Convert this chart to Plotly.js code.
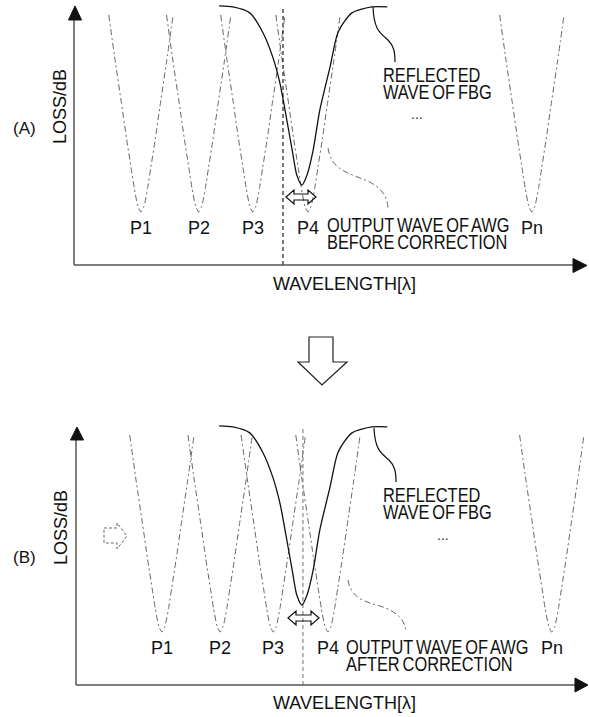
<!DOCTYPE html>
<html>
<head>
<meta charset="utf-8">
<script src="https://cdn.plot.ly/plotly-3.0.1.min.js"></script>
<style>
html,body{margin:0;padding:0;background:#fff;}
#chart{width:589px;height:717px;}
</style>
</head>
<body>
<div id="chart"></div>
<script>
// ---------- DATA ----------
// AWG output channel centres (wavelength, arbitrary units)
const awgCentersBefore = [13.1, 24.4, 35.0, 45.8, 89.6];
const awgCentersAfter  = [17.2, 28.6, 39.0, 49.7, 93.5];
const channelLabels    = ['P1', 'P2', 'P3', 'P4', 'Pn'];
// shape of one AWG channel passband: offset from centre vs loss
const awgProfileOffset = [-6.3, -5.0, -3.8, -2.8, -1.9, -1.3, -0.6, 0, 0.6, 1.3, 1.9, 2.8, 3.8, 5.0, 6.3];
const awgProfileLoss   = [97.3, 78.9, 62.8, 49.0, 37.5, 29.8, 22.9, 20.6, 22.9, 29.8, 37.5, 49.0, 62.8, 78.9, 97.3];
// reflected wave of FBG
const fbgWavelength = [28.4, 31.1, 34.4, 37.0, 38.9, 40.3, 41.3, 42.7, 43.6, 44.6, 45.6, 46.8, 48.1, 50.1, 51.7, 54.4, 58.3, 61.3];
const fbgLoss       = [100.8, 100.4, 98.1, 90.3, 80.9, 70.8, 60.3, 44.7, 35.0, 31.1, 35.0, 44.7, 60.3, 77.0, 90.7, 98.1, 100.4, 100.4];
// P3/P4 crossing marker
const markerBefore = 40.9;
const markerAfter  = 44.8;
const markerTop    = 100;
const labelLoss    = 14.3;

// ---------- helpers for decoration (pixel -> paper) ----------
const W = 589, H = 717;
const PX = x => x / W;
const PY = y => 1 - y / H;
function pathPx(cmds) {
  return cmds.map(c => {
    const k = c[0];
    if (k === 'Z') return 'Z';
    let s = k;
    for (let i = 1; i < c.length; i += 2) {
      s += ' ' + PX(c[i]).toFixed(5) + ',' + PY(c[i + 1]).toFixed(5);
    }
    return s;
  }).join(' ');
}
function shapePath(cmds, line, fill) {
  return {type: 'path', xref: 'paper', yref: 'paper', path: pathPx(cmds),
          line: line, fillcolor: fill || 'rgba(0,0,0,0)', layer: 'above'};
}
const SANS = 'Liberation Sans, Arial, sans-serif';
function txt(text, x, y, opts) {
  return Object.assign({text: text, xref: 'paper', yref: 'paper', x: PX(x), y: PY(y),
    xanchor: 'center', yanchor: 'middle', showarrow: false,
    font: {family: SANS, size: 18, color: '#111'}}, opts || {});
}

// ---------- traces ----------
const traces = [];
const awgLine = {color: '#666', width: 1, dash: '6px,3px,2px,3px', shape: 'spline', smoothing: 0.6};
function addPanel(centers, xa, ya, markerX, markerColor) {
  centers.forEach(c => {
    traces.push({type: 'scatter', mode: 'lines', xaxis: xa, yaxis: ya,
      x: awgProfileOffset.map(d => c + d), y: awgProfileLoss,
      line: awgLine, hoverinfo: 'skip', showlegend: false});
  });
  traces.push({type: 'scatter', mode: 'lines', xaxis: xa, yaxis: ya,
    x: [markerX, markerX], y: [0, markerTop],
    line: {color: markerColor, width: 1.2, dash: '4px,3px'}, hoverinfo: 'skip', showlegend: false});
  traces.push({type: 'scatter', mode: 'lines', xaxis: xa, yaxis: ya,
    x: fbgWavelength, y: fbgLoss,
    line: {color: '#111', width: 1.3, shape: 'spline', smoothing: 0.7}, hoverinfo: 'skip', showlegend: false});
}
addPanel(awgCentersBefore, 'x', 'y', markerBefore, '#222');
addPanel(awgCentersAfter, 'x2', 'y2', markerAfter, '#888');

// ---------- shapes ----------
const axLine = {color: '#555', width: 1.5};
const blk = {color: '#111', width: 1.2};
const awgLeader = {color: '#666', width: 1, dash: '6px,3px,2px,3px'};
const shapes = [
  // panel A axes
  shapePath([['M', 74, 265], ['L', 74, 19]], axLine),
  shapePath([['M', 74, 265], ['L', 574, 265]], axLine),
  shapePath([['M', 75, 6], ['L', 81.5, 20], ['L', 68.5, 20], ['Z']], {color: '#111', width: 1}, '#111'),
  shapePath([['M', 587, 265.5], ['L', 573, 258.5], ['L', 573, 272.5], ['Z']], {color: '#111', width: 1}, '#111'),
  // panel B axes
  shapePath([['M', 76, 685], ['L', 76, 439]], axLine),
  shapePath([['M', 76, 685], ['L', 575, 685]], axLine),
  shapePath([['M', 77, 427], ['L', 83.5, 440], ['L', 70.5, 440], ['Z']], {color: '#111', width: 1}, '#111'),
  shapePath([['M', 588, 685], ['L', 575, 678], ['L', 575, 692], ['Z']], {color: '#111', width: 1}, '#111'),
  // big arrow between panels
  shapePath([['M', 309, 337], ['L', 333, 337], ['L', 333, 362], ['L', 347, 362], ['L', 322, 385],
             ['L', 298, 362], ['L', 309, 362], ['Z']], {color: '#222', width: 1.2}, '#fff'),
  // double arrows
  shapePath([['M', 286, 197], ['L', 294, 190], ['L', 294, 194], ['L', 308, 194], ['L', 308, 190], ['L', 316, 197],
             ['L', 308, 204], ['L', 308, 200], ['L', 294, 200], ['L', 294, 204], ['Z']], blk),
  shapePath([['M', 288, 618], ['L', 296, 611], ['L', 296, 615], ['L', 311, 615], ['L', 311, 611], ['L', 319, 618],
             ['L', 311, 625], ['L', 311, 621], ['L', 296, 621], ['L', 296, 625], ['Z']], blk),
  // small dashed arrow in B
  shapePath([['M', 104, 528], ['L', 117, 528], ['L', 117, 523], ['L', 127, 536], ['L', 117, 549],
             ['L', 117, 543], ['L', 104, 543], ['Z']], {color: '#666', width: 1, dash: '3px,2px'}),
  // FBG leaders
  shapePath([['M', 373, 7], ['C', 374, 30, 380, 33, 388, 40], ['C', 394, 46, 395, 52, 395, 62]], blk),
  shapePath([['M', 374, 428], ['C', 375, 450, 381, 453, 389, 460], ['C', 395, 466, 396, 472, 396, 482]], blk),
  // AWG leaders
  shapePath([['M', 328, 148], ['C', 331, 168, 345, 172, 360, 178], ['C', 380, 185, 388, 195, 388, 210]], awgLeader),
  shapePath([['M', 348, 580], ['C', 351, 598, 365, 602, 380, 606], ['C', 398, 612, 405, 620, 406, 632]], awgLeader)
];

// ---------- annotations ----------
const annotations = [];
function chanLabels(centers, xr, yr) {
  centers.forEach((c, i) => {
    annotations.push({text: channelLabels[i], x: c, y: labelLoss, xref: xr, yref: yr,
      showarrow: false, xanchor: 'center', yanchor: 'middle',
      font: {family: SANS, size: 18, color: '#111'}});
  });
}
chanLabels(awgCentersBefore, 'x', 'y');
chanLabels(awgCentersAfter, 'x2', 'y2');
const nf = {family: SANS, size: 20, color: '#111'};
// two-line call-outs: y given = first-line centre + 13 (half the default line pitch)
annotations.push(
  txt('(A)', 24, 128, {font: {family: SANS, size: 17, color: '#111'}}),
  txt('(B)', 24, 557, {font: {family: SANS, size: 17, color: '#111'}}),
  txt('LOSS/dB', 60, 107, {textangle: -90}),
  txt('LOSS/dB', 61, 528, {textangle: -90}),
  txt('WAVELENGTH[λ]', 344, 284),
  txt('WAVELENGTH[λ]', 344, 703),
  txt('REFLECTED<br>WAVE OF FBG', 381, 88, {xanchor: 'left', align: 'left', font: nf}),
  txt('REFLECTED<br>WAVE OF FBG', 381, 508, {xanchor: 'left', align: 'left', font: nf}),
  txt('...', 417, 114, {font: {family: SANS, size: 14, color: '#333'}}),
  txt('...', 443, 535, {font: {family: SANS, size: 14, color: '#333'}}),
  txt('OUTPUT WAVE OF AWG<br>BEFORE CORRECTION', 325, 238, {xanchor: 'left', align: 'left', font: nf}),
  txt('OUTPUT WAVE OF AWG<br>AFTER CORRECTION', 344, 660, {xanchor: 'left', align: 'left', font: nf})
);

// condensed, tightly leaded typesetting of the call-out labels (as in the drawing)
const condenseX = 0.82;
const secondLineDy = '0.86em';

// ---------- layout ----------
const hiddenAxis = {visible: false, showgrid: false, zeroline: false, fixedrange: true};
const layout = {
  width: W, height: H, autosize: false,
  margin: {l: 0, r: 0, t: 0, b: 0, pad: 0},
  paper_bgcolor: '#fff', plot_bgcolor: 'rgba(0,0,0,0)',
  showlegend: false,
  xaxis:  Object.assign({}, hiddenAxis, {domain: [74 / W, 585 / W], range: [0, 100]}),
  yaxis:  Object.assign({}, hiddenAxis, {domain: [1 - 265 / H, 1], range: [0, 265 / 2.57]}),
  xaxis2: Object.assign({}, hiddenAxis, {domain: [74 / W, 585 / W], range: [0, 100], anchor: 'y2'}),
  yaxis2: Object.assign({}, hiddenAxis, {domain: [1 - 685 / H, 1 - 420 / H], range: [0, 265 / 2.57], anchor: 'x2'}),
  shapes: shapes,
  annotations: annotations
};
Plotly.newPlot('chart', traces, layout, {staticPlot: true, displayModeBar: false}).then(() => {
  document.querySelectorAll('#chart text.annotation-text').forEach(t => {
    const lines = t.querySelectorAll('tspan.line');
    if (lines.length !== 2) return;
    lines[1].setAttribute('dy', secondLineDy);
    t.style.wordSpacing = '-2px';
    const bb = t.getBBox();
    const L = bb.x;
    const prev = t.getAttribute('transform') || '';
    t.setAttribute('transform', prev + ' translate(' + L + ',0) scale(' + condenseX + ',1) translate(' + (-L) + ',0)');
  });
});
</script>
</body>
</html>
